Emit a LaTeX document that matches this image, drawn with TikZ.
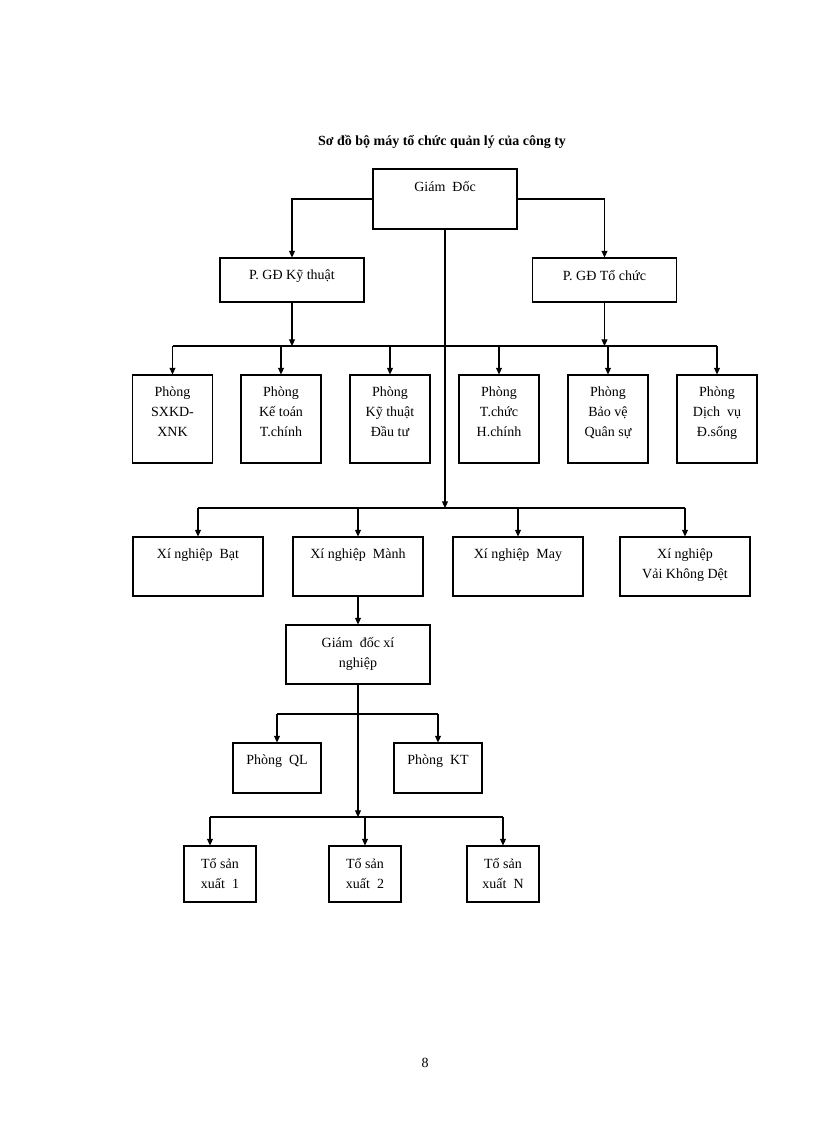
\documentclass[tikz,border=0pt]{standalone}
\usepackage{fontspec}
\setmainfont{Liberation Serif}
\usetikzlibrary{arrows.meta}
\begin{document}
\begin{tikzpicture}[%
    x = 0.75pt, y = -0.75pt,
    font = \fontsize{10.5}{15}\selectfont,
    box/.style = {draw, thick, inner sep = 0pt, minimum width = #1},
    txt/.style = {label = {[anchor = north, align = center, yshift = -6pt, font = \fontsize{10.5}{15}\selectfont]north:#1}},
    arr/.style = {thick, -{Triangle[length = 5pt, width = 4.5pt]}},
    ln/.style = {thick}]

    \useasboundingbox (0, 0) rectangle (816, 1123);

    \node[font = \bfseries\fontsize{10.5}{13}\selectfont] (title) at (442, 142) {Sơ đồ bộ máy tổ chức quản lý của công ty};

    \node[box = 108pt, minimum height = 45pt, txt = {Giám\ \ Đốc}] (gd) at (445, 199) {};
    \node[box = 108pt, minimum height = 33pt, txt = {P. GĐ Kỹ thuật}] (pkt) at (292, 280) {};
    \node[box = 108pt, minimum height = 33pt, txt = {P. GĐ Tổ chức}] (ptc) at (604.5, 280) {};

    \node[box = 60pt, minimum height = 66pt, txt = {Phòng\\SXKD-\\XNK}] (p1) at (172.5, 419) {};
    \node[box = 60pt, minimum height = 66pt, txt = {Phòng\\Kế toán\\T.chính}] (p2) at (281, 419) {};
    \node[box = 60pt, minimum height = 66pt, txt = {Phòng\\Kỹ thuật\\Đầu tư}] (p3) at (390, 419) {};
    \node[box = 60pt, minimum height = 66pt, txt = {Phòng\\T.chức\\H.chính}] (p4) at (499, 419) {};
    \node[box = 60pt, minimum height = 66pt, txt = {Phòng\\Bảo vệ\\Quân sự}] (p5) at (608, 419) {};
    \node[box = 60pt, minimum height = 66pt, txt = {Phòng\\Dịch\ \ vụ\\Đ.sống}] (p6) at (717, 419) {};

    \node[box = 97.5pt, minimum height = 44.25pt, txt = {Xí nghiệp\ \ Bạt}] (xn1) at (198, 566.5) {};
    \node[box = 97.5pt, minimum height = 44.25pt, txt = {Xí nghiệp\ \ Mành}] (xn2) at (358, 566.5) {};
    \node[box = 97.5pt, minimum height = 44.25pt, txt = {Xí nghiệp\ \ May}] (xn3) at (518, 566.5) {};
    \node[box = 97.5pt, minimum height = 44.25pt, txt = {Xí nghiệp\\Vải Không Dệt}] (xn4) at (685, 566.5) {};

    \node[box = 108pt, minimum height = 44.25pt, txt = {Giám\ \ đốc xí\\nghiệp}] (gdxn) at (358, 654.5) {};
    \node[box = 66pt, minimum height = 37.5pt, txt = {Phòng\ \ QL}] (ql) at (277, 768) {};
    \node[box = 66pt, minimum height = 37.5pt, txt = {Phòng\ \ KT}] (kt) at (438, 768) {};

    \node[box = 54pt, minimum height = 42pt, txt = {Tổ sản\\xuất\ \ 1}] (t1) at (220, 874) {};
    \node[box = 54pt, minimum height = 42pt, txt = {Tổ sản\\xuất\ \ 2}] (t2) at (365, 874) {};
    \node[box = 54pt, minimum height = 42pt, txt = {Tổ sản\\xuất\ \ N}] (t3) at (503, 874) {};

    \node (page) at (425, 1063) {8};

    % junctions
    \coordinate (jp) at (445, 346);
    \coordinate (jx) at (445, 508);
    \coordinate (jq) at (358, 714);
    \coordinate (jt) at (358, 817);

    \draw[arr] (gd.west) -| (pkt.north);
    \draw[arr] (gd.east) -| (ptc.north);
    \draw[arr] (gd.south) -- (jx);
    \draw[arr] (pkt.south) -- (pkt.south |- jp);
    \draw[arr] (ptc.south) -- (ptc.south |- jp);
    \draw[ln] (p1.north |- jp) -- (p6.north |- jp);
    \foreach \p in {p1, p2, p3, p4, p5, p6}
        \draw[arr] (\p.north |- jp) -- (\p.north);

    \draw[ln] (xn1.north |- jx) -- (xn4.north |- jx);
    \foreach \p in {xn1, xn2, xn3, xn4}
        \draw[arr] (\p.north |- jx) -- (\p.north);

    \draw[arr] (xn2.south) -- (gdxn.north);
    \draw[arr] (gdxn.south) -- (jt);
    \draw[ln] (ql.north |- jq) -- (kt.north |- jq);
    \foreach \p in {ql, kt}
        \draw[arr] (\p.north |- jq) -- (\p.north);

    \draw[ln] ([xshift = -7.5pt]t1.north |- jt) -- (t3.north |- jt);
    \draw[arr] ([xshift = -7.5pt]t1.north |- jt) -- ([xshift = -7.5pt]t1.north);
    \foreach \p in {t2, t3}
        \draw[arr] (\p.north |- jt) -- (\p.north);
\end{tikzpicture}
\end{document}
